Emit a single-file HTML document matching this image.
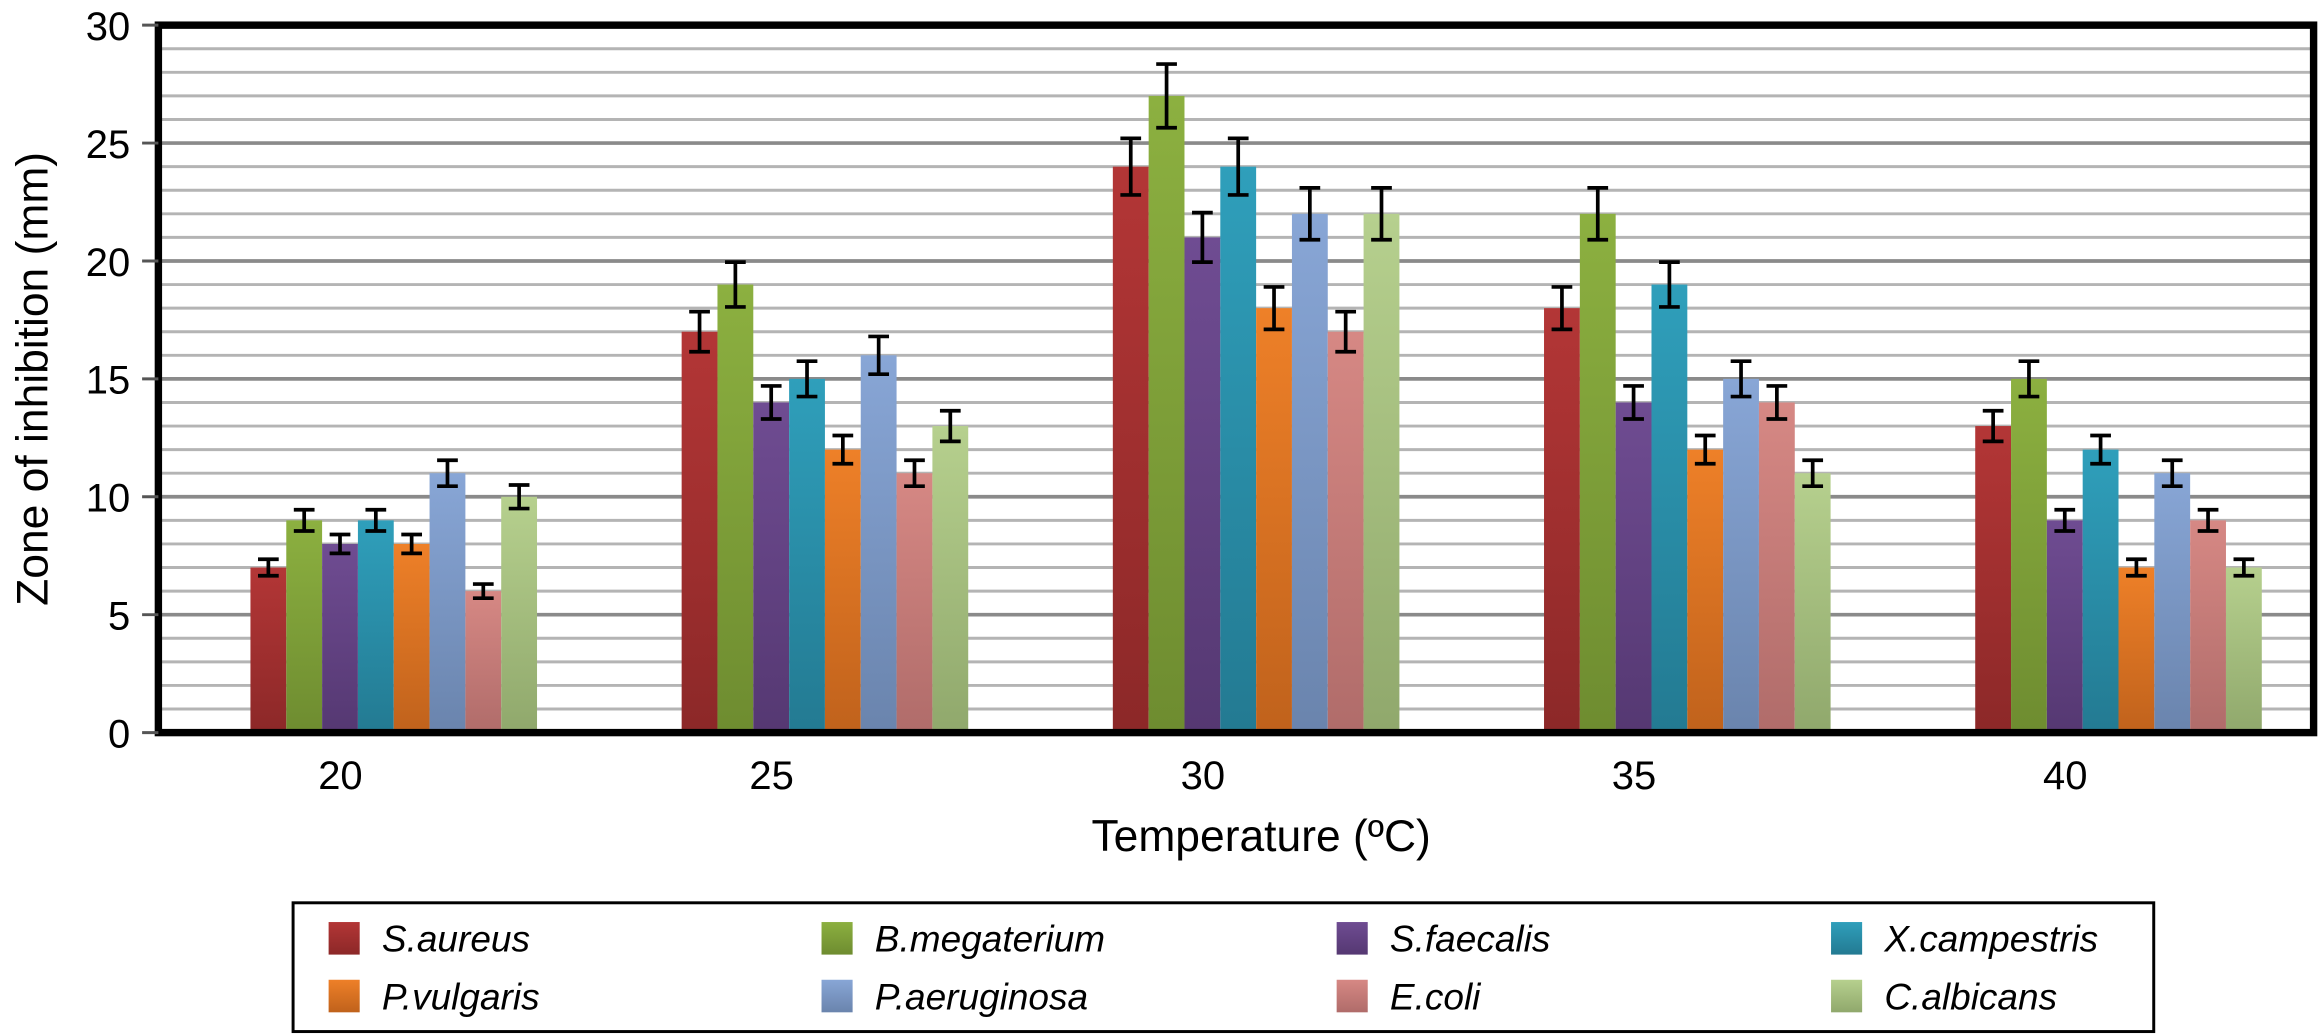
<!DOCTYPE html>
<html><head><meta charset="utf-8"><style>
html,body{margin:0;padding:0;background:#fff;}
svg{display:block;}
text{font-family:"Liberation Sans",sans-serif;}
</style></head>
<body>
<svg id="chart" width="2321" height="1036" viewBox="0 0 1568 700" preserveAspectRatio="none" xmlns="http://www.w3.org/2000/svg">
<defs id="defs"></defs>
<g id="grid"></g>
<g id="bars"></g>
<g id="errs"></g>
<rect x="107" y="17" width="1456" height="478" fill="none" stroke="#000" stroke-width="5"/>
<g id="yaxis"></g>
<g id="xaxis"></g>
<text transform="translate(32,256) rotate(-90)" text-anchor="middle" font-size="30" fill="#000">Zone of inhibition (mm)</text>
<text x="852" y="575" text-anchor="middle" font-size="30" fill="#000">Temperature (ºC)</text>
<g>
<rect x="198" y="610" width="1257" height="87" fill="#fff" stroke="#000" stroke-width="2"/>
<g id="legend"></g>
</g>
</svg>
<script>
const categories = ["20","25","30","35","40"];
const seriesNames = ["S.aureus","B.megaterium","S.faecalis","X.campestris","P.vulgaris","P.aeruginosa","E.coli","C.albicans"];
const sAureus = [7,17,24,18,13];
const bMegaterium = [9,19,27,22,15];
const sFaecalis = [8,14,21,14,9];
const xCampestris = [9,15,24,19,12];
const pVulgaris = [8,12,18,12,7];
const pAeruginosa = [11,16,22,15,11];
const eColi = [6,11,17,14,9];
const cAlbicans = [10,13,22,11,7];
const errAureus = [0.35,0.85,1.2,0.9,0.65];
const errMegaterium = [0.45,0.95,1.35,1.1,0.75];
const errFaecalis = [0.4,0.7,1.05,0.7,0.45];
const errCampestris = [0.45,0.75,1.2,0.95,0.6];
const errVulgaris = [0.4,0.6,0.9,0.6,0.35];
const errAeruginosa = [0.55,0.8,1.1,0.75,0.55];
const errColi = [0.3,0.55,0.85,0.7,0.45];
const errAlbicans = [0.5,0.65,1.1,0.55,0.35];
const yTicks = [0,5,10,15,20,25,30];

const series = [sAureus,bMegaterium,sFaecalis,xCampestris,pVulgaris,pAeruginosa,eColi,cAlbicans];
const errors = [errAureus,errMegaterium,errFaecalis,errCampestris,errVulgaris,errAeruginosa,errColi,errAlbicans];
const colors = [["#b33636","#8c2828"],["#8cb040","#6e8c30"],["#6f4c92","#553872"],["#2f9fbb","#237a92"],["#ee8028","#c0621c"],["#88a6d6","#6a84ad"],["#d68884","#b06c6a"],["#b6d08e","#90a86c"]];
const NS="http://www.w3.org/2000/svg";
const yMin=0,yMax=30,plotTop=17,plotBot=495;
function y(v){return plotBot-(v-yMin)/(yMax-yMin)*(plotBot-plotTop);}
const groupW=291.3, firstCenter=266, barW=24.2;
function xc(i){return firstCenter+groupW*i;}
function mk(tag,attrs,parent){const e=document.createElementNS(NS,tag);for(const k in attrs)e.setAttribute(k,attrs[k]);parent.appendChild(e);return e;}
const defs=document.getElementById('defs');
colors.forEach((c,s)=>{const g=mk('linearGradient',{id:'g'+s,x1:0,y1:0,x2:0,y2:1},defs);mk('stop',{offset:'0','stop-color':c[0]},g);mk('stop',{offset:'1','stop-color':c[1]},g);});
const grid=document.getElementById('grid');
for(let v=1;v<yMax;v++){
  const l=mk('line',{x1:107,x2:1563,y1:y(v),y2:y(v),stroke:v%5===0?'#8a8a8a':'#b4b4b4','stroke-width':v%5===0?2.5:2},grid);
  
  
}
const yaxis=document.getElementById('yaxis');
yTicks.forEach(t=>{
  mk('line',{x1:96,x2:107,y1:y(t),y2:y(t),stroke:'#555','stroke-width':2},yaxis);
  const tx=mk('text',{x:88,y:y(t)+10,'text-anchor':'end','font-size':27,fill:'#000'},yaxis);
  tx.textContent=t;
  
  
});
const xaxis=document.getElementById('xaxis');
categories.forEach((c,i)=>{
  const tx=mk('text',{x:xc(i)-36,y:533,'text-anchor':'middle','font-size':27,fill:'#000'},xaxis);
  tx.textContent=c;
  
  
});
const bars=document.getElementById('bars'),errs=document.getElementById('errs');
series.forEach((vals,s)=>{
  vals.forEach((v,i)=>{
    const x0=xc(i)-4*barW+s*barW;
    const r=mk('rect',{x:x0,y:y(v),width:barW,height:y(0)-y(v),fill:'url(#g'+s+')'},bars);
    
    
    const e=errors[s][i],cx=x0+barW/2;
    const g=mk('g',{stroke:'#000','stroke-width':2.5},errs);
    
    
    mk('line',{x1:cx,x2:cx,y1:y(v+e),y2:y(v-e)},g);
    mk('line',{x1:cx-7,x2:cx+7,y1:y(v+e),y2:y(v+e)},g);
    mk('line',{x1:cx-7,x2:cx+7,y1:y(v-e),y2:y(v-e)},g);
  });
});
const legend=document.getElementById('legend');
const lx=[222,555,903,1237], ly=[634,673];
seriesNames.forEach((n,s)=>{
  const col=s%4,row=Math.floor(s/4);
  const g=mk('g',{},legend);
  
  
  mk('rect',{x:lx[col],y:ly[row]-11,width:21,height:22,fill:'url(#g'+s+')'},g);
  const t=mk('text',{x:lx[col]+36,y:ly[row]+9,'font-size':25,'font-style':'italic',fill:'#000'},g);
  t.textContent=n;
});
</script>
</body></html>
